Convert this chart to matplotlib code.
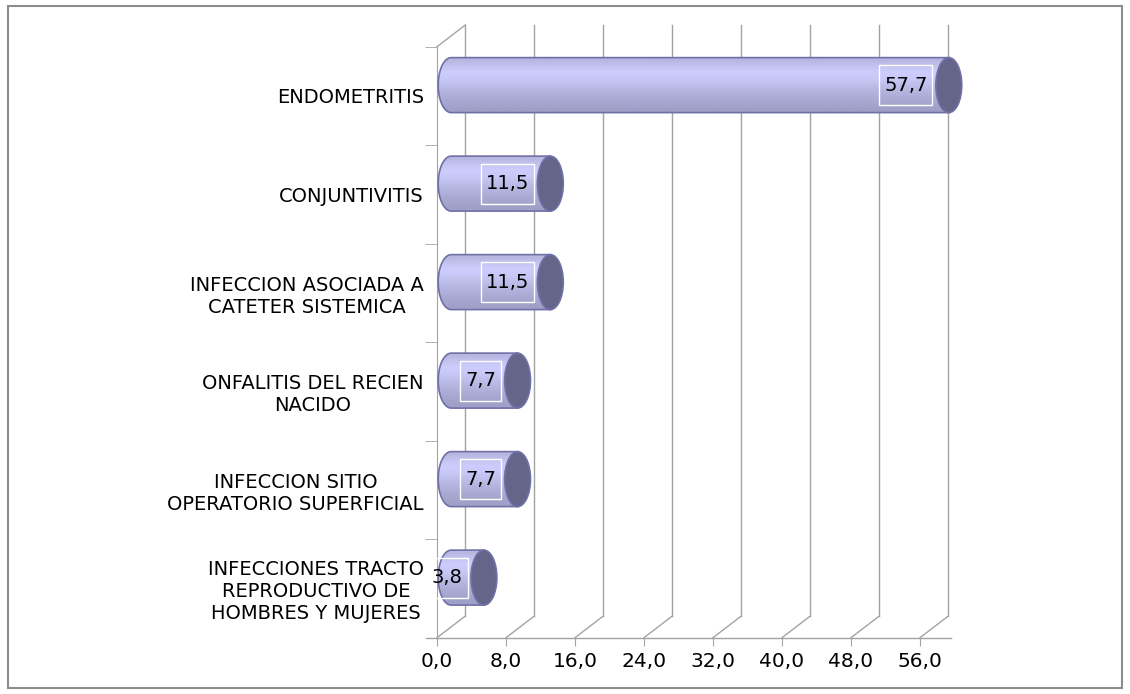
import numpy as np
import matplotlib
matplotlib.use('Agg')
from matplotlib import pyplot as plt
from matplotlib.patches import Ellipse, PathPatch, Rectangle
from matplotlib.path import Path
from matplotlib.colors import to_rgb
from matplotlib.transforms import IdentityTransform

categories = [
    'ENDOMETRITIS',
    'CONJUNTIVITIS',
    'INFECCION ASOCIADA A\nCATETER SISTEMICA',
    'ONFALITIS DEL RECIEN\nNACIDO',
    'INFECCION SITIO\nOPERATORIO SUPERFICIAL',
    'INFECCIONES TRACTO\nREPRODUCTIVO DE\nHOMBRES Y MUJERES',
]
values = [57.7, 11.5, 11.5, 7.7, 7.7, 3.8]
x_ticks = [0, 8, 16, 24, 32, 40, 48, 56]
x_max = 60

# 3d look: depth offset of the back wall (x in data units, y in category bands)
depth_x = 3.28
depth_y = 0.22
bar_h = 0.558
cap_w = 3.0

grid_col = '#a3a3a3'
edge_col = '#7070a8'
cap_col = '#65658a'
body_cols = ['#b7b7e2', '#c4c4f0', '#cdcdfd', '#cacafa', '#c2c2ee', '#b9b9e5',
             '#b1b1dc', '#aaaad4', '#a4a4cd', '#9f9fc8']


def body_path(x0, x1, yt, yb, rx):
    # rectangle with a rounded (half ellipse) left end
    t = np.linspace(-np.pi / 2, np.pi / 2, 40)
    yc = (yt + yb) / 2
    ry = (yb - yt) / 2
    arc_x = x0 - rx * np.cos(t)
    arc_y = yc + ry * np.sin(t)
    verts = [(x1, yt)] + list(zip(arc_x, arc_y)) + [(x1, yb), (x1, yt)]
    codes = [Path.MOVETO] + [Path.LINETO] * (len(verts) - 2) + [Path.CLOSEPOLY]
    return Path(verts, codes)


if __name__ == '__main__':
    plt.rcParams['font.family'] = 'DejaVu Sans'

    fig = plt.figure(figsize=(11.3, 6.94), dpi=100)
    ax = fig.add_axes([437 / 1130, 56.3 / 694, 517.5 / 1130, 591 / 694])
    n = len(categories)
    ax.set_xlim(0, x_max)
    ax.set_ylim(n - 0.5, -0.5)

    # outer frame
    fig.patches.append(Rectangle((7.5 / 1130, 6 / 694), 1114.5 / 1130, 682 / 694,
                                 transform=fig.transFigure, fill=False,
                                 edgecolor='#8c8c8c', linewidth=1.5))

    # back wall gridlines and floor diagonals
    y_front = n - 0.5
    y_top = -0.5
    for v in x_ticks:
        ax.plot([v + depth_x, v + depth_x], [y_front - depth_y, y_top - depth_y],
                color=grid_col, lw=1, clip_on=False, zorder=1)
        ax.plot([v, v + depth_x], [y_front, y_front - depth_y],
                color=grid_col, lw=1, clip_on=False, zorder=1)
    ax.plot([0, depth_x], [y_top, y_top - depth_y], color=grid_col, lw=1,
            clip_on=False, zorder=1)
    ax.plot([-1.2, 59.6], [y_front, y_front], color=grid_col, lw=1,
            clip_on=False, zorder=1)

    # cylinders
    grad = np.array([to_rgb(c) for c in body_cols])[:, None, :]
    value_texts = []
    for i, v in enumerate(values):
        yc = i - depth_y / 2
        yt, yb = yc - bar_h / 2, yc + bar_h / 2
        x0 = depth_x / 2
        x1 = v + depth_x / 2
        path = body_path(x0, x1, yt, yb, cap_w / 2)
        clip = PathPatch(path, facecolor='none', edgecolor='none')
        ax.add_patch(clip)
        im = ax.imshow(grad, extent=(x0 - cap_w / 2, x1, yb, yt), aspect='auto',
                       interpolation='bilinear', zorder=2)
        im.set_clip_path(clip)
        ax.add_patch(PathPatch(path, facecolor='none', edgecolor=edge_col,
                               lw=1.2, zorder=3, clip_on=False))
        ax.add_patch(Ellipse((x1, yc), cap_w, bar_h, facecolor=cap_col,
                             edgecolor=edge_col, lw=1.2, zorder=4, clip_on=False))
        t = ax.annotate('{:.1f}'.format(v).replace('.', ','), xy=(v, yc),
                        xytext=(-5.2, 0), textcoords='offset points', ha='right',
                        va='center', fontsize=14, color='black', zorder=5)
        value_texts.append(t)
    ax.set_xlim(0, x_max)
    ax.set_ylim(n - 0.5, -0.5)

    # axes, ticks and labels
    for side in ['top', 'right', 'bottom']:
        ax.spines[side].set_visible(False)
    ax.spines['left'].set_color(grid_col)
    ax.spines['left'].set_zorder(1)
    ax.set_xticks(x_ticks)
    ax.set_xticklabels(['{:.1f}'.format(t).replace('.', ',') for t in x_ticks],
                       fontsize=14.5)
    ax.tick_params(axis='x', length=6, color=grid_col, direction='out', pad=4)
    ax.set_yticks(range(n))
    ax.set_yticklabels(categories, fontsize=14)
    for lab in ax.get_yticklabels():
        lab.set_multialignment('center')
    ax.set_yticks(np.arange(-0.5, n, 1), minor=True)
    ax.tick_params(axis='y', which='major', length=0, pad=9.5)
    ax.tick_params(axis='y', which='minor', length=8.5, color=grid_col,
                   direction='out')
    ax.patch.set_visible(False)

    # white frames around the value labels
    fig.canvas.draw()
    renderer = fig.canvas.get_renderer()
    for t in value_texts:
        bb = t.get_window_extent(renderer)
        ym = (bb.y0 + bb.y1) / 2
        fig.patches.append(Rectangle((bb.x0 - 5, ym - 20), bb.width + 10, 40,
                                     transform=IdentityTransform(), fill=False,
                                     edgecolor='white', linewidth=1, zorder=5))

    plt.savefig('out.png', dpi=100)
